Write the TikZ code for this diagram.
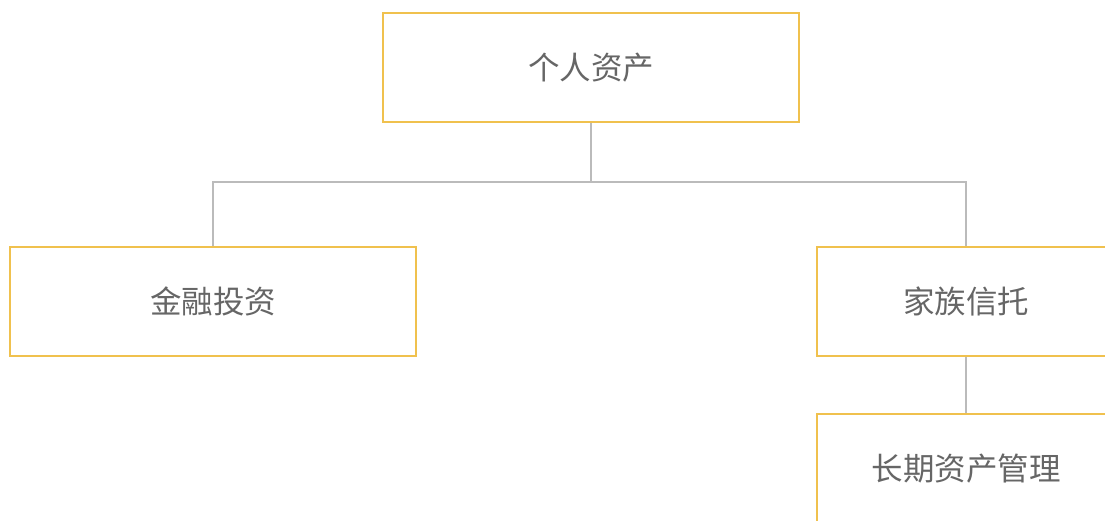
\documentclass[tikz,border=0pt]{standalone}
\usepackage{fontspec}
\newfontfamily\cjk{Noto Sans CJK SC}
\usetikzlibrary{positioning}
\definecolor{boxline}{HTML}{F0C14E}
\definecolor{linkline}{HTML}{BBBBBB}
\definecolor{txt}{HTML}{666666}
\tikzset{asset/.style={draw=boxline, line width=1.5pt, minimum height=109pt, text=txt, font=\cjk\fontsize{31.5}{31.5}\selectfont, inner sep=0pt},
         link/.style={draw=linkline, line width=1.5pt}}

\begin{document}
\begin{tikzpicture}[x=1pt, y=-1pt]
         \useasboundingbox (0,0) rectangle (1105,521);
         \clip (0,0) rectangle (1105,521);
         \node[asset, minimum width=416pt] (root) at (591,67.5) {个人资产};  %top node
         \node[asset, minimum width=406pt] (fin) at (213,301.5) {金融投资};
         \node[asset, minimum width=298pt] (trust) at (966,301.5) {家族信托};
         \node[asset, minimum width=298pt] (longterm) at (966,468.5) {长期资产管理};

         \coordinate (fork) at (591,182);
         \draw[link] (root.south) -- (fork);
         \draw[link] (fin.north) |- (fork) -| (trust.north);
         \draw[link] (trust.south) -- (longterm.north);
       \end{tikzpicture}
\end{document}
